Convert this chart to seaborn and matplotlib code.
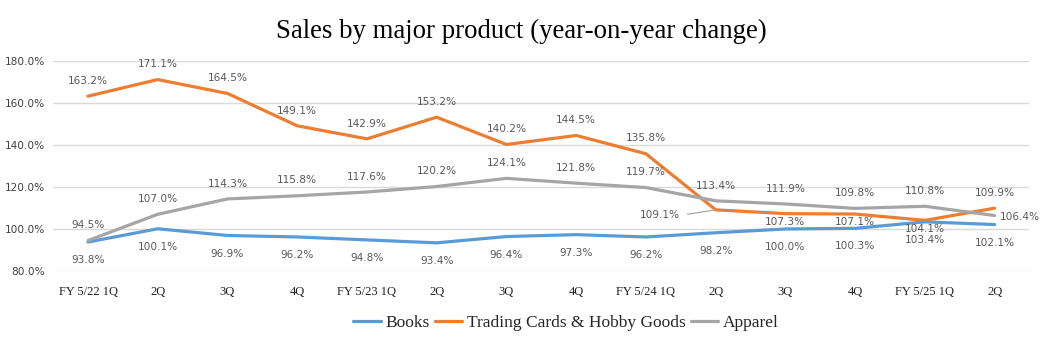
import matplotlib
matplotlib.use("Agg")
import matplotlib.pyplot as plt
import seaborn as sns
import pandas as pd

periods = ["FY 5/22 1Q", "2Q", "3Q", "4Q", "FY 5/23 1Q", "2Q", "3Q", "4Q",
           "FY 5/24 1Q", "2Q", "3Q", "4Q", "FY 5/25 1Q", "2Q"]
books = [93.8, 100.1, 96.9, 96.2, 94.8, 93.4, 96.4, 97.3, 96.2, 98.2, 100.0, 100.3, 103.4, 102.1]
trading = [163.2, 171.1, 164.5, 149.1, 142.9, 153.2, 140.2, 144.5, 135.8, 109.1, 107.3, 107.1, 104.1, 109.9]
apparel = [94.5, 107.0, 114.3, 115.8, 117.6, 120.2, 124.1, 121.8, 119.7, 113.4, 111.9, 109.8, 110.8, 106.4]
series_names = ["Books", "Trading Cards & Hobby Goods", "Apparel"]
colors = ["#5B9BD5", "#ED7D31", "#A5A5A5"]
yticks = [80, 100, 120, 140, 160, 180]

sns.set_theme(style="white")
plt.rcParams['font.family'] = ['DejaVu Sans']

rows = []
for name, vals in zip(series_names, [books, trading, apparel]):
    for i, v in enumerate(vals):
        rows.append({"idx": i, "value": v, "series": name})
df = pd.DataFrame(rows)

fig = plt.figure(figsize=(10.42, 3.42), dpi=100)
ax = fig.add_axes([0.051, 0.2076, 0.937, 0.6144])

sns.lineplot(data=df, x="idx", y="value", hue="series", hue_order=series_names,
             palette=colors, linewidth=2.3, ax=ax, legend=False, sort=False)

ax.set_xlim(-0.5, len(periods) - 0.5)
ax.set_ylim(80, 180)
ax.set_yticks(yticks)
ax.set_yticklabels([f"{v:.1f}%" for v in yticks], fontsize=7.6, color="#404040")
ax.set_xticks(range(len(periods)))
ax.set_xticklabels(periods, fontfamily="Liberation Serif", fontsize=9, color="#202020")
ax.tick_params(axis="y", length=0, pad=6)
ax.tick_params(axis="x", length=0, pad=11)
ax.yaxis.grid(True, color="#D9D9D9", linewidth=1)
ax.set_axisbelow(True)
for s in ax.spines.values():
    s.set_visible(False)
ax.set_xlabel("")
ax.set_ylabel("")

lbl = dict(fontsize=7.6, color="#595959", ha="center", va="center")

# Books labels below
for i, v in enumerate(books):
    ax.annotate(f"{v:.1f}%", (i, v), xytext=(0, -13), textcoords="offset points", **lbl)
# Apparel labels above (last one to the right)
for i, v in enumerate(apparel):
    if i == len(apparel) - 1:
        ax.annotate(f"{v:.1f}%", (i, v), xytext=(18, -1), textcoords="offset points", **lbl)
    else:
        ax.annotate(f"{v:.1f}%", (i, v), xytext=(0, 11), textcoords="offset points", **lbl)
# Trading labels
for i, v in enumerate(trading):
    if i == 9:
        ax.annotate(f"{v:.1f}%", (i, v), xytext=(-40, -4), textcoords="offset points",
                    arrowprops=dict(arrowstyle="-", color="#A0A0A0", lw=0.8,
                                    relpos=(1.0, 0.5), shrinkA=3, shrinkB=2), **lbl)
    elif i in (10, 11, 12):
        ax.annotate(f"{v:.1f}%", (i, v), xytext=(0, -6), textcoords="offset points", **lbl)
    else:
        ax.annotate(f"{v:.1f}%", (i, v), xytext=(0, 11), textcoords="offset points", **lbl)

fig.suptitle("Sales by major product (year-on-year change)", fontfamily="Liberation Serif",
             fontsize=19.3, y=0.945, color="#000000")

handles = [plt.Line2D([0], [0], color=c, lw=2.3) for c in colors]
fig.legend(handles, series_names, loc="center", bbox_to_anchor=(0.543, 0.055), ncol=3,
           frameon=False, prop={"family": "Liberation Serif", "size": 12.5},
           handlelength=1.6, handletextpad=0.25, columnspacing=0.3)

fig.savefig("out.png", dpi=100)
